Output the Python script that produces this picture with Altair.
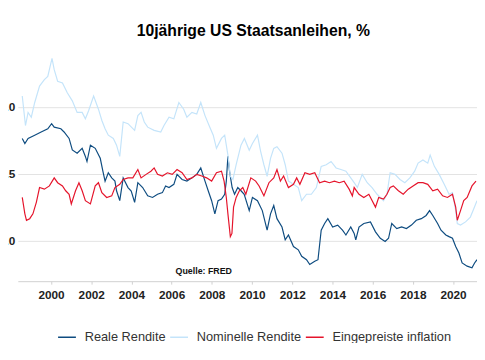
import altair as alt
import pandas as pd

# Real yield (Reale Rendite)
real_t = [1998.57, 1998.70, 1998.86, 1999.19, 1999.51, 1999.84, 2000.03, 2000.16, 2000.49, 2000.65,
          2000.90, 2001.06, 2001.30, 2001.55, 2001.71, 2001.79, 2001.96, 2002.20, 2002.45, 2002.58,
          2002.69, 2002.85, 2003.02, 2003.18, 2003.26, 2003.42, 2003.59, 2003.83, 2003.99, 2004.16,
          2004.32, 2004.56, 2004.81, 2005.05, 2005.30, 2005.54, 2005.70, 2005.87, 2006.11, 2006.27,
          2006.52, 2006.76, 2007.01, 2007.25, 2007.45, 2007.66, 2007.82, 2007.99, 2008.15, 2008.31,
          2008.48, 2008.64, 2008.72, 2008.80, 2008.88, 2009.01, 2009.13, 2009.29, 2009.45, 2009.61,
          2009.86, 2010.02, 2010.27, 2010.51, 2010.75, 2010.92, 2011.08, 2011.24, 2011.49, 2011.65,
          2011.81, 2012.06, 2012.30, 2012.47, 2012.71, 2012.87, 2013.12, 2013.28, 2013.44, 2013.61,
          2013.77, 2014.01, 2014.26, 2014.50, 2014.67, 2014.91, 2015.08, 2015.16, 2015.32, 2015.56,
          2015.89, 2016.14, 2016.38, 2016.62, 2016.79, 2016.95, 2017.20, 2017.44, 2017.68, 2017.93,
          2018.17, 2018.42, 2018.66, 2018.83, 2018.99, 2019.23, 2019.40, 2019.64, 2019.80, 2019.97,
          2020.13, 2020.29, 2020.45, 2020.70, 2020.94, 2021.07, 2021.19]
real_v = [3.82, 3.63, 3.82, 3.94, 4.06, 4.18, 4.37, 4.24, 4.18, 4.06,
          3.82, 3.39, 3.27, 3.45, 3.15, 2.96, 3.57, 3.45, 3.08, 2.60,
          2.23, 2.54, 2.35, 2.23, 1.87, 1.50, 2.35, 1.99, 1.86, 1.44,
          2.17, 1.99, 1.68, 1.62, 1.74, 1.80, 2.05, 1.99, 2.11, 2.48,
          2.29, 2.23, 2.35, 2.48, 2.72, 2.23, 1.87, 1.50, 1.01, 1.50,
          1.56, 1.74, 2.23, 3.15, 2.60, 1.99, 1.74, 1.99, 1.87, 1.74,
          1.13, 1.62, 1.50, 1.13, 0.40, 1.01, 1.32, 0.83, 0.52, 0.04,
          0.22, -0.21, -0.33, -0.57, -0.70, -0.88, -0.76, -0.70, 0.40, 0.65,
          0.83, 0.52, 0.59, 0.40, 0.22, 0.52, 0.28, 0.04, 0.52, 0.65,
          0.71, 0.34, 0.10, -0.02, 0.10, 0.65, 0.46, 0.52, 0.46, 0.59,
          0.77, 0.83, 0.95, 1.13, 0.95, 0.65, 0.40, 0.22, 0.16, 0.10,
          -0.21, -0.45, -0.82, -0.94, -1.00, -0.82, -0.70]

# Nominal yield (Nominelle Rendite)
nom_t = [1998.57, 1998.73, 1998.86, 1999.02, 1999.19, 1999.43, 1999.67, 1999.84, 2000.05, 2000.16,
         2000.33, 2000.57, 2000.81, 2001.06, 2001.30, 2001.55, 2001.71, 2001.87, 2002.12, 2002.36,
         2002.53, 2002.69, 2002.85, 2003.10, 2003.26, 2003.42, 2003.59, 2003.83, 2004.16, 2004.32,
         2004.48, 2004.64, 2004.81, 2005.13, 2005.46, 2005.62, 2005.87, 2006.11, 2006.36, 2006.60,
         2006.76, 2007.01, 2007.25, 2007.45, 2007.66, 2007.90, 2008.07, 2008.23, 2008.48, 2008.64,
         2008.80, 2008.92, 2009.05, 2009.21, 2009.45, 2009.62, 2009.86, 2010.02, 2010.27, 2010.43,
         2010.59, 2010.75, 2010.92, 2011.08, 2011.24, 2011.49, 2011.65, 2011.81, 2012.06, 2012.30,
         2012.47, 2012.71, 2012.95, 2013.20, 2013.44, 2013.69, 2013.93, 2014.18, 2014.42, 2014.67,
         2014.91, 2015.08, 2015.24, 2015.48, 2015.73, 2015.97, 2016.22, 2016.54, 2016.71, 2016.87,
         2017.11, 2017.36, 2017.60, 2017.85, 2018.09, 2018.26, 2018.50, 2018.74, 2018.86, 2019.07,
         2019.31, 2019.56, 2019.80, 2019.97, 2020.13, 2020.21, 2020.37, 2020.62, 2020.86, 2021.03,
         2021.19]
nom_v = [5.40, 4.30, 4.79, 4.61, 5.16, 5.77, 6.01, 6.13, 6.80, 6.38,
         5.95, 5.89, 5.52, 5.22, 4.79, 4.79, 4.55, 4.85, 5.40, 4.91,
         4.49, 4.18, 3.94, 3.82, 3.57, 3.15, 4.43, 4.37, 4.12, 4.67,
         4.79, 4.43, 4.24, 4.12, 4.06, 4.30, 4.61, 4.55, 5.16, 4.91,
         4.61, 4.79, 4.73, 5.16, 4.67, 4.24, 3.94, 3.45, 3.82, 3.94,
         3.20, 2.41, 2.29, 2.84, 3.57, 3.82, 3.38, 3.63, 3.94, 3.33,
         2.84, 2.41, 3.08, 3.45, 3.51, 3.27, 2.84, 2.23, 2.11, 1.99,
         1.50, 1.74, 1.74, 1.99, 2.78, 2.84, 2.96, 2.72, 2.66, 2.60,
         2.35, 2.17, 1.99, 2.48, 2.17, 1.99, 1.74, 1.50, 1.74, 2.54,
         2.48, 2.29, 2.17, 2.35, 2.60, 2.90, 3.02, 2.90, 3.20, 2.78,
         2.48, 2.11, 1.74, 1.80, 1.13, 0.65, 0.59, 0.71, 0.89, 1.20,
         1.50]

# Breakeven inflation (Eingepreiste inflation)
inf_t = [1998.57, 1998.70, 1998.78, 1998.94, 1999.10, 1999.27, 1999.43, 1999.67, 1999.92, 2000.16,
         2000.33, 2000.57, 2000.73, 2000.90, 2001.01, 2001.22, 2001.39, 2001.55, 2001.71, 2001.96,
         2002.20, 2002.36, 2002.53, 2002.77, 2003.02, 2003.18, 2003.42, 2003.59, 2003.83, 2004.07,
         2004.32, 2004.48, 2004.73, 2004.97, 2005.13, 2005.30, 2005.54, 2005.79, 2006.03, 2006.27,
         2006.52, 2006.76, 2007.01, 2007.25, 2007.50, 2007.74, 2007.99, 2008.23, 2008.48, 2008.61,
         2008.72, 2008.80, 2008.92, 2009.00, 2009.08, 2009.21, 2009.37, 2009.54, 2009.69, 2009.94,
         2010.18, 2010.35, 2010.59, 2010.84, 2011.08, 2011.24, 2011.41, 2011.57, 2011.81, 2012.06,
         2012.22, 2012.38, 2012.63, 2012.87, 2013.12, 2013.36, 2013.61, 2013.85, 2014.10, 2014.34,
         2014.58, 2014.83, 2014.99, 2015.08, 2015.32, 2015.56, 2015.81, 2016.14, 2016.30, 2016.54,
         2016.71, 2016.87, 2017.03, 2017.28, 2017.52, 2017.77, 2018.01, 2018.26, 2018.50, 2018.74,
         2018.99, 2019.23, 2019.48, 2019.72, 2019.97, 2020.13, 2020.21, 2020.37, 2020.53, 2020.70,
         2020.94, 2021.14]
inf_v = [1.62, 1.01, 0.77, 0.83, 1.01, 1.44, 1.99, 1.93, 2.05, 2.35,
         2.17, 2.05, 1.87, 1.74, 1.38, 1.87, 2.17, 1.87, 1.50, 1.38,
         2.05, 2.17, 1.80, 1.62, 1.68, 1.99, 2.11, 2.29, 2.35, 2.35,
         2.66, 2.35, 2.48, 2.60, 2.72, 2.48, 2.42, 2.54, 2.48, 2.66,
         2.54, 2.29, 2.35, 2.48, 2.42, 2.35, 2.23, 2.54, 2.60, 2.23,
         1.62, 1.01, 0.16, 0.28, 1.26, 1.62, 1.87, 1.99, 1.74, 2.35,
         2.23, 2.05, 1.68, 2.17, 2.35, 2.66, 2.23, 2.42, 1.99, 2.11,
         2.35, 2.11, 2.54, 2.48, 2.54, 2.17, 2.23, 2.17, 2.23, 2.17,
         2.23, 1.93, 1.68, 1.99, 1.74, 1.62, 1.74, 1.26, 1.62, 1.56,
         1.74, 1.99, 2.05, 1.87, 1.74, 1.93, 2.05, 2.17, 2.17, 2.11,
         1.87, 1.93, 1.68, 1.62, 1.74, 1.26, 0.77, 1.13, 1.50, 1.62,
         2.05, 2.23]

series_names = ["Reale Rendite", "Nominelle Rendite", "Eingepreiste inflation"]
series_colors = ["#0e4c80", "#c4e4fa", "#e5142b"]
y_ticks = [0.0, 2.5, 5.0]
x_ticks = [2000, 2002, 2004, 2006, 2008, 2010, 2012, 2014, 2016, 2018, 2020]
source_text = ["Quelle: FRED"]
source_pos = [2007.6, -1.12]

rows = []
for name, ts, vs in zip(series_names, [real_t, nom_t, inf_t], [real_v, nom_v, inf_v]):
    for t, v in zip(ts, vs):
        rows.append({"year": t, "value": v, "series": name})
df = pd.DataFrame(rows)

FONT = "Liberation Sans"

x_enc = alt.X("year:Q",
              scale=alt.Scale(domain=[1998.35, 2021.19], nice=False, zero=False),
              axis=alt.Axis(values=x_ticks, format="d", title=None, grid=False,
                            labelFont=FONT, labelFontWeight="bold", labelFontSize=12,
                            labelColor="#222", domainColor="#d0d0d0", tickColor="#d0d0d0",
                            tickSize=3, labelPadding=6))
y_enc = alt.Y("value:Q",
              scale=alt.Scale(domain=[-1.5, 7], nice=False, zero=False),
              axis=alt.Axis(values=y_ticks, format=".1f", title=None, domain=False,
                            ticks=False, grid=True, gridColor="#e2e2e2",
                            labelFont=FONT, labelFontWeight="bold", labelFontSize=12,
                            labelColor="#222", labelPadding=3))

lines = alt.Chart(df).mark_line(strokeWidth=1.2, clip=True).encode(
    x=x_enc,
    y=y_enc,
    color=alt.Color("series:N",
                    scale=alt.Scale(domain=series_names, range=series_colors),
                    sort=series_names,
                    legend=alt.Legend(title=None, orient="none", direction="horizontal",
                                      legendX=40, legendY=279,
                                      symbolType="stroke", symbolSize=330, symbolStrokeWidth=1.5,
                                      labelFont=FONT, labelFontSize=13, labelColor="#333",
                                      labelOffset=8, columnPadding=0)),
    order=alt.Order("year:Q"),
)

src_df = pd.DataFrame({"year": [source_pos[0]], "value": [source_pos[1]], "label": source_text})
source = alt.Chart(src_df).mark_text(font=FONT, fontWeight="bold", fontSize=9, color="#111").encode(
    x="year:Q", y="value:Q", text="label:N")

chart = alt.layer(lines, source).properties(
    width=467, height=232,
    title=alt.TitleParams("10jährige US Staatsanleihen, %", font=FONT, fontSize=16,
                          fontWeight="bold", anchor="middle", frame="group", color="#000",
                          offset=14, dx=6),
    autosize=alt.AutoSizeParams(type="none"),
    padding={"left": 10, "top": 43, "right": 0, "bottom": 60},
).configure_view(stroke=None)

chart.save("out.html", embed_options={"renderer": "svg", "actions": False})
